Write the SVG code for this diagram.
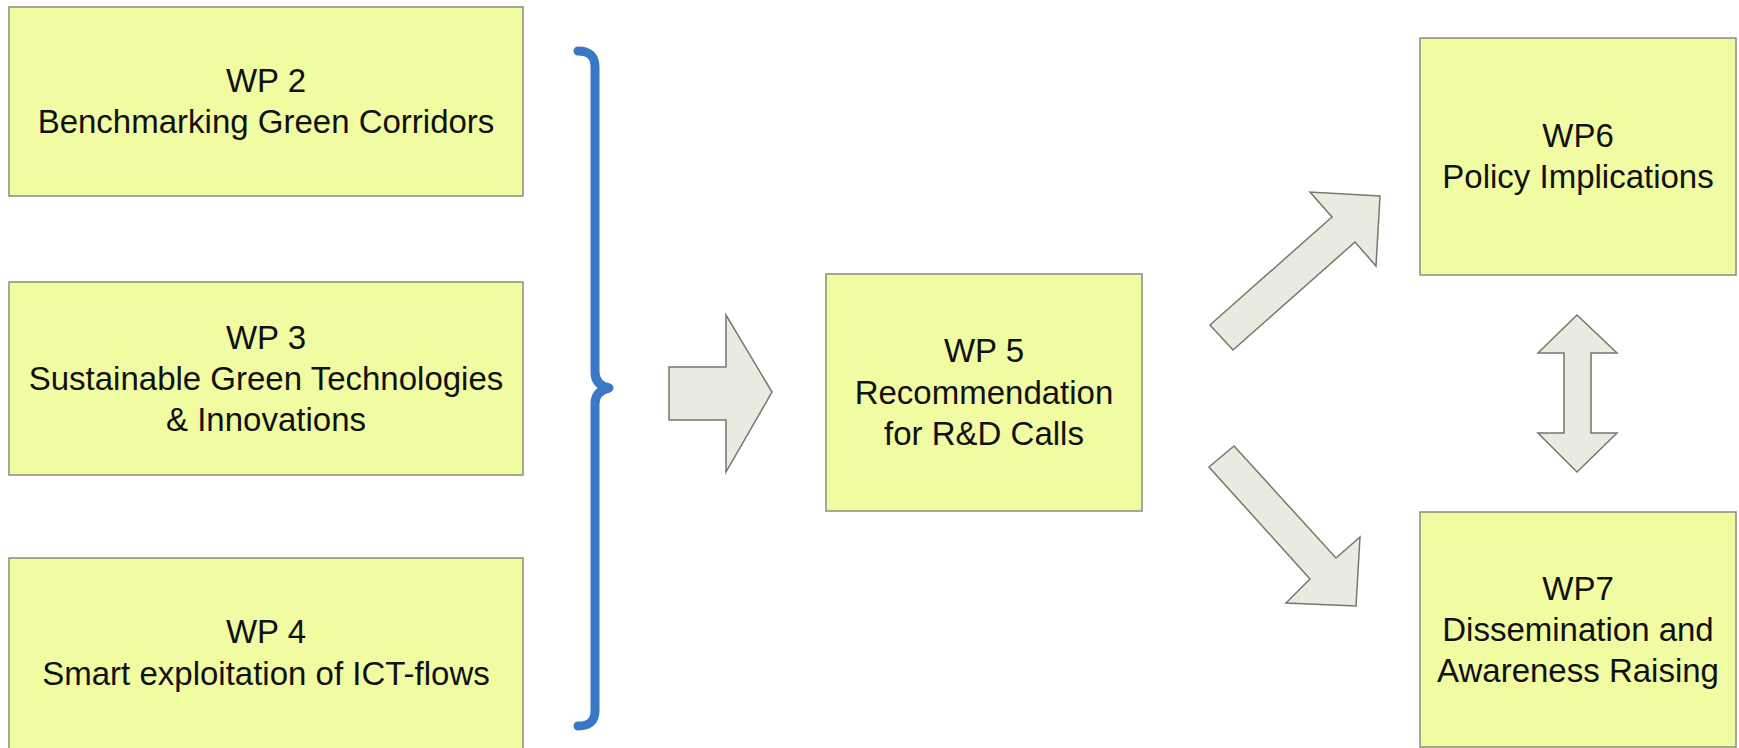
<svg xmlns="http://www.w3.org/2000/svg" width="1739" height="748" viewBox="0 0 1739 748">
  <style>
    .box { fill: #f0fba2; stroke: #8c8c7c; stroke-width: 1.5; }
    .lbl { font-family: "Liberation Sans", Arial, sans-serif; font-size: 33px; fill: #111111; text-anchor: middle; }
    .arr { fill: #e9ebe0; stroke: #77776f; stroke-width: 1.5; stroke-linejoin: miter; }
    .brace { fill: none; stroke: #3a77c6; stroke-width: 9; stroke-linecap: round; stroke-linejoin: round; }
  </style>
  <rect width="1739" height="748" fill="#ffffff"/>

  <g id="wp2">
    <rect class="box" x="9" y="7" width="514" height="189"/>
    <text class="lbl" x="266" y="92">WP 2</text>
    <text class="lbl" x="266" y="133">Benchmarking Green Corridors</text>
  </g>

  <g id="wp3">
    <rect class="box" x="9" y="282" width="514" height="193"/>
    <text class="lbl" x="266" y="349">WP 3</text>
    <text class="lbl" x="266" y="390">Sustainable Green Technologies</text>
    <text class="lbl" x="266" y="431">&amp; Innovations</text>
  </g>

  <g id="wp4">
    <rect class="box" x="9" y="558" width="514" height="200"/>
    <text class="lbl" x="266" y="643">WP 4</text>
    <text class="lbl" x="266" y="685">Smart exploitation of ICT-flows</text>
  </g>

  <g id="wp5">
    <rect class="box" x="826" y="274" width="316" height="237"/>
    <text class="lbl" x="984" y="362">WP 5</text>
    <text class="lbl" x="984" y="404">Recommendation</text>
    <text class="lbl" x="984" y="445">for R&amp;D Calls</text>
  </g>

  <g id="wp6">
    <rect class="box" x="1420" y="38" width="316" height="237"/>
    <text class="lbl" x="1578" y="147">WP6</text>
    <text class="lbl" x="1578" y="188">Policy Implications</text>
  </g>

  <g id="wp7">
    <rect class="box" x="1420" y="512" width="316" height="235"/>
    <text class="lbl" x="1578" y="600">WP7</text>
    <text class="lbl" x="1578" y="641">Dissemination and</text>
    <text class="lbl" x="1578" y="682">Awareness Raising</text>
  </g>

  <g id="connectors">
    <path id="brace" class="brace" d="M578,51 Q595,51 595,67 L595,372 Q595,385 609,388 Q595,391 595,404 L595,711 Q595,726 578,726"/>
    <polygon id="arrow-to-wp5" class="arr" points="669,367 726,367 726,315 772,392 726,472 726,420 669,420"/>
    <polygon id="arrow-to-wp6" class="arr" points="1210,325 1332,217 1310,192 1380,196 1376,266 1355,242 1233,350"/>
    <polygon id="arrow-to-wp7" class="arr" points="1234,446 1336,558 1360,537 1356,606 1286,603 1310,579 1209,467"/>
    <polygon id="arrow-wp6-wp7" class="arr" points="1577,315 1617,353 1591,353 1591,433 1617,433 1577,472 1538,433 1564,433 1564,353 1538,353"/>
  </g>
</svg>
